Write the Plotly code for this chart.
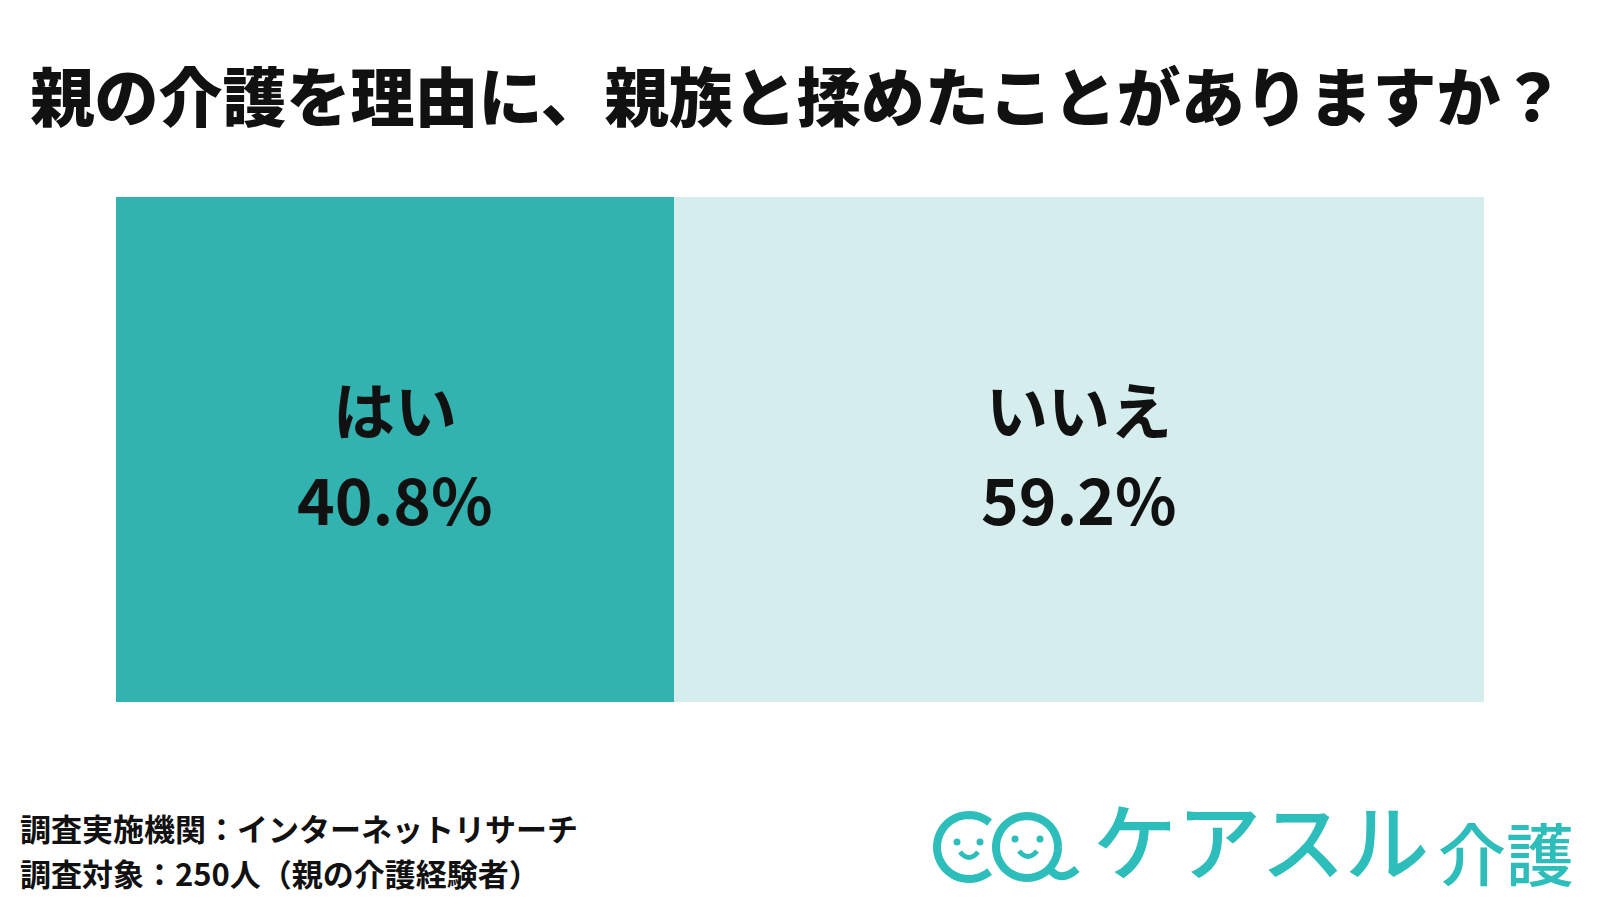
import math
import plotly.graph_objects as go

# answer data
answers = ['はい', 'いいえ']
shares = [40.8, 59.2]
bar_colors = ['#33B3AF', '#D5EEED']

title_text = '親の介護を理由に、親族と揉めたことがありますか？'
note_lines = ['調査実施機関：インターネットリサーチ', '調査対象：250人（親の介護経験者）']

W, H = 1600, 900
FONT = 'Noto Sans CJK JP'
LOGO = '#2DBDBA'


def px(x):
    return x / W


def py(y):
    return 1 - y / H


fig = go.Figure()
for name, val, col in zip(answers, shares, bar_colors):
    fig.add_trace(go.Bar(y=['q'], x=[val], name=name, orientation='h',
                         marker=dict(color=col, line=dict(width=0)),
                         hoverinfo='skip', showlegend=False))

annotations = []
start = 0
for name, val in zip(answers, shares):
    mid = start + val / 2
    annotations.append(dict(x=mid, y=0, xref='x', yref='y', text=name, showarrow=False,
                            yshift=42, font=dict(family=FONT, size=62, color='#111111', weight='bold')))
    annotations.append(dict(x=mid, y=0, xref='x', yref='y', text=f'{val:.1f}%', showarrow=False,
                            yshift=-47, font=dict(family=FONT, size=64, color='#111111', weight='bold')))
    start += val

# footer notes
for i, line in enumerate(note_lines):
    annotations.append(dict(x=px(18), y=py(827 + 45 * i), xref='paper', yref='paper', text=line,
                            showarrow=False, xanchor='left', yanchor='middle',
                            font=dict(family=FONT, size=31, color='#111111', weight='bold')))

# logo text
annotations.append(dict(x=px(1092), y=py(837), xref='paper', yref='paper', text='ケアスル',
                        showarrow=False, xanchor='left', yanchor='middle', borderpad=0,
                        font=dict(family=FONT, size=84, color=LOGO, weight=500)))
annotations.append(dict(x=px(1437), y=py(851), xref='paper', yref='paper', text='介護',
                        showarrow=False, xanchor='left', yanchor='middle', borderpad=0,
                        font=dict(family=FONT, size=68, color=LOGO, weight=500)))


def arc_path(cx, cy, r, a0, a1, n=40):
    pts = []
    for k in range(n + 1):
        a = math.radians(a0 + (a1 - a0) * k / n)
        pts.append((px(cx + r * math.cos(a)), py(cy - r * math.sin(a))))
    return 'M ' + ' L '.join(f'{x:.5f},{y:.5f}' for x, y in pts)


shapes = []
logo_line = dict(color=LOGO, width=8)
# face 1 (C shape)
shapes.append(dict(type='path', xref='paper', yref='paper', path=arc_path(969, 847, 32, 50, 310), line=logo_line))
# face 2 (Q shape)
shapes.append(dict(type='path', xref='paper', yref='paper', path=arc_path(1027, 847, 31, 0, 360, 60), line=logo_line))
shapes.append(dict(type='path', xref='paper', yref='paper',
                   path=f'M {px(1049)},{py(868)} Q {px(1060)},{py(884)} {px(1077)},{py(869)}',
                   line=logo_line))
# eyes
for ex, ey in [(957, 842), (980, 842), (1015, 839), (1040, 839)]:
    shapes.append(dict(type='circle', xref='paper', yref='paper', x0=px(ex - 3.5), x1=px(ex + 3.5),
                       y0=py(ey + 3.5), y1=py(ey - 3.5), fillcolor=LOGO, line=dict(width=0)))
# smiles
for sx0, sx1, sy in [(960, 978, 852), (1019, 1037, 851)]:
    shapes.append(dict(type='path', xref='paper', yref='paper',
                       path=f'M {px(sx0)},{py(sy)} Q {px((sx0 + sx1) / 2)},{py(sy + 11)} {px(sx1)},{py(sy)}',
                       line=dict(color=LOGO, width=5)))

fig.update_layout(
    width=W, height=H, margin=dict(l=0, r=0, t=0, b=0),
    paper_bgcolor='white', plot_bgcolor='white',
    barmode='stack', bargap=0,
    title=dict(text=title_text, x=0.4985, xanchor='center', y=py(99), yanchor='middle', yref='container',
               font=dict(family=FONT, size=64, color='#111111', weight=900)),
    xaxis=dict(range=[0, 100], domain=[px(116), px(1484)], visible=False, fixedrange=True),
    yaxis=dict(range=[-0.5, 0.5], domain=[py(702), py(197)], visible=False, fixedrange=True),
    annotations=annotations, shapes=shapes,
)

fig.write_html("out.html", config={'displayModeBar': False},
               post_script="document.body.style.margin='0';")
